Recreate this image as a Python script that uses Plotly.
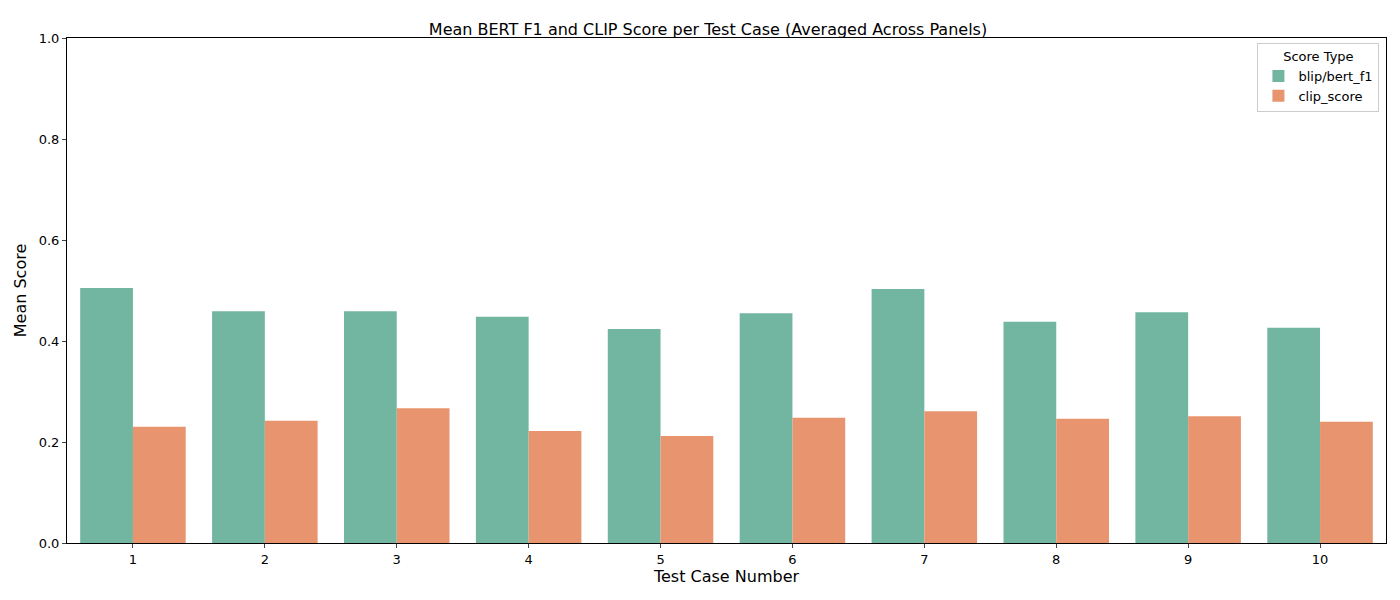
import plotly.graph_objects as go

test_cases = [1, 2, 3, 4, 5, 6, 7, 8, 9, 10]
bert_f1 = [0.505, 0.459, 0.459, 0.448, 0.424, 0.455, 0.503, 0.438, 0.457, 0.426]
clip_score = [0.230, 0.242, 0.267, 0.222, 0.212, 0.248, 0.261, 0.246, 0.251, 0.240]

fig = go.Figure()
fig.add_trace(go.Bar(x=[str(t) for t in test_cases], y=bert_f1, name="blip/bert_f1",
                     marker=dict(color="#72b6a1", line=dict(width=0))))
fig.add_trace(go.Bar(x=[str(t) for t in test_cases], y=clip_score, name="clip_score",
                     marker=dict(color="#e8956f", line=dict(width=0))))

fig.update_layout(
    width=1400, height=600,
    barmode="group", bargap=0.2, bargroupgap=0,
    plot_bgcolor="white", paper_bgcolor="white",
    font=dict(family="DejaVu Sans", size=13, color="black"),
    margin=dict(l=59, r=22, t=30, b=65),
    title=dict(text="Mean BERT F1 and CLIP Score per Test Case (Averaged Across Panels)",
               x=0.5, xanchor="center", y=0.965, yanchor="middle", font=dict(size=16)),
    xaxis=dict(title=dict(text="Test Case Number", standoff=4), showline=True, linecolor="black",
               mirror=True, ticks="outside", ticklen=4, showgrid=False),
    yaxis=dict(title=dict(text="Mean Score", standoff=8), range=[0, 1], dtick=0.2, tickformat=".1f",
               showline=True, linecolor="black", mirror=True, ticks="outside", ticklen=4,
               showgrid=False, zeroline=False),
    legend=dict(title=dict(text="Score Type", side="top center", font=dict(size=13)),
                x=0.995, y=0.99, xanchor="right", yanchor="top",
                bordercolor="#cccccc", borderwidth=1, bgcolor="white", font=dict(size=13)),
)

fig.write_html("out.html")
